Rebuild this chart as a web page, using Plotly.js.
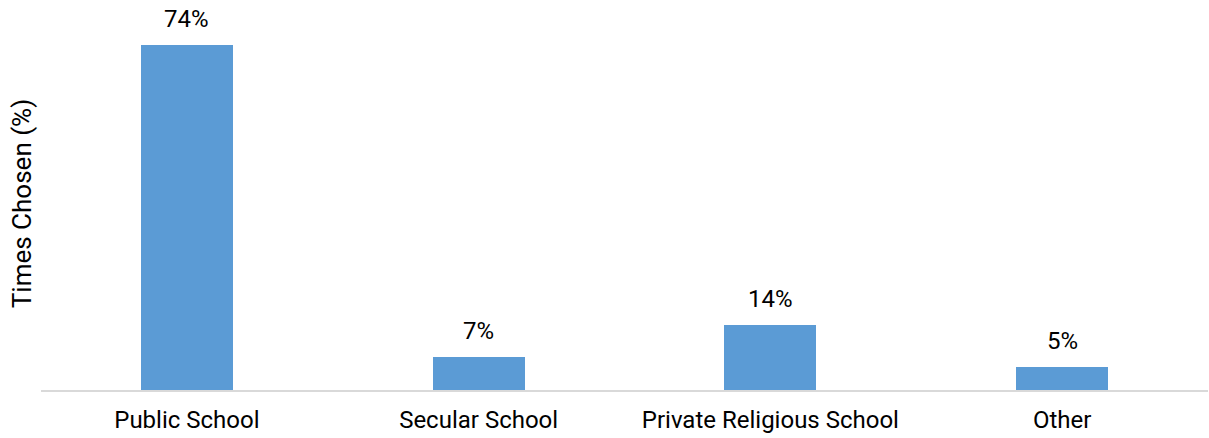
<!DOCTYPE html>
<html>
<head>
<meta charset="utf-8">
<script src="https://cdn.plot.ly/plotly-3.0.1.min.js"></script>
<style>html,body{margin:0;padding:0;background:#fff;}#chart{width:1209px;height:438px;}</style>
</head>
<body>
<div id="chart"></div>
<script>
const categories = ["Public School", "Secular School", "Private Religious School", "Other"];
const values = [74, 7, 14, 5];
const valueLabels = ["74%", "7%", "14%", "5%"];

const font = "Roboto, 'Noto Sans', Arial, sans-serif";

const trace = {
  type: "bar",
  x: categories,
  y: values,
  marker: {color: "#5B9BD5"},
  width: 0.315,
  hoverinfo: "none"
};

const annotations = categories.map((c, i) => ({
  x: c, y: values[i], text: valueLabels[i],
  xref: "x", yref: "y", showarrow: false,
  yanchor: "bottom", yshift: 10,
  font: {family: font, size: 24, color: "#000"}
}));

const layout = {
  width: 1209, height: 438,
  margin: {l: 41, r: 1, t: 17, b: 48},
  paper_bgcolor: "#fff", plot_bgcolor: "#fff",
  showlegend: false,
  bargap: 0,
  xaxis: {
    type: "category",
    showline: true, linecolor: "#d9d9d9", linewidth: 2,
    ticks: "", showgrid: false, zeroline: false,
    ticklabelstandoff: 7,
    tickfont: {family: font, size: 24, color: "#000"}
  },
  yaxis: {
    range: [0, 80], showgrid: false, zeroline: false, showline: false,
    showticklabels: false, ticks: "",
    title: {text: "Times Chosen (%)", standoff: 0, font: {family: font, size: 26, color: "#000"}}
  },
  annotations: annotations
};

Plotly.newPlot("chart", [trace], layout, {displayModeBar: false, staticPlot: true});
</script>
</body>
</html>
